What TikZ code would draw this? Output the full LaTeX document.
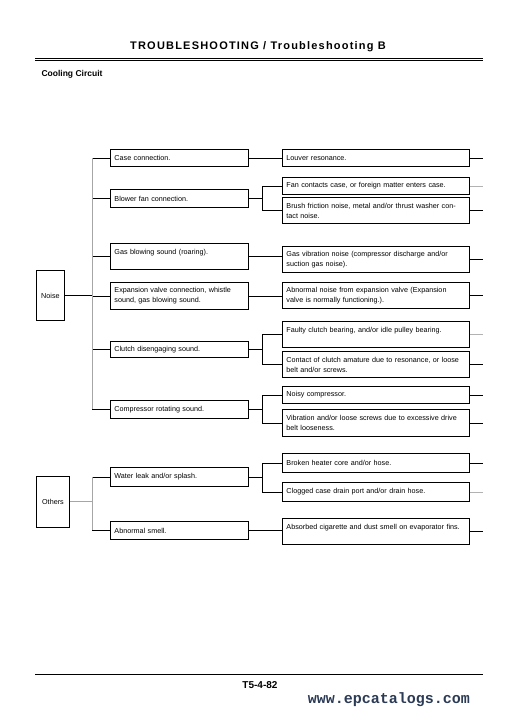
\documentclass[tikz,border=0pt]{standalone}
\usepackage{fontspec}
\setmainfont{Liberation Sans}
\newfontfamily\headfont[LetterSpace=11]{Liberation Sans}
\newfontfamily\webfont{Liberation Mono}
\usetikzlibrary{positioning}
\definecolor{webblue}{HTML}{2B3A55}
\tikzset{
 box/.style={draw,line width=0.9pt,anchor=north west,align=left,inner xsep=4pt,inner ysep=1pt,font=\fontsize{7.2}{10}\selectfont},
 symptom/.style={box,text width=130pt},
 cause/.style={box,text width=179pt},
 group/.style={draw,line width=0.9pt,anchor=north west,inner sep=1pt,font=\fontsize{7.2}{10}\selectfont},
 link/.style={line width=0.7pt},
 bus/.style={line width=1pt,gray!70}
}

\begin{document}
\begin{tikzpicture}[x=1pt,y=-1pt]
\useasboundingbox (0,0) rectangle (520,725);
\node[font=\headfont\bfseries\fontsize{11}{13}\selectfont] (title) at (258,47) {TROUBLESHOOTING / Troubleshooting B};
\draw[line width=0.8pt] (35,58.3)--(483,58.3) (35,60.7)--(483,60.7);
\node[anchor=west,font=\bfseries\fontsize{8.5}{10}\selectfont] (circuit) at (38,74) {Cooling Circuit};
\node[group,minimum width=28,minimum height=50] (noise) at (36,270) {Noise};
\node[group,minimum width=33,minimum height=51] (others) at (36,476) {Others};
\node[symptom,minimum height=17] (case) at (110,149) {Case connection.};
\node[symptom,minimum height=18] (blower) at (110,189) {Blower fan connection.};
\node[symptom,minimum height=26] (gasblow) at (110,243) {Gas blowing sound (roaring).\\\mbox{}};
\node[symptom,minimum height=27] (expvalve) at (110,282) {Expansion valve connection, whistle\\sound, gas blowing sound.};
\node[symptom,minimum height=16] (clutch) at (110,341) {Clutch disengaging sound.};
\node[symptom,minimum height=18] (comprot) at (110,400) {Compressor rotating sound.};
\node[symptom,minimum height=19] (water) at (110,467) {Water leak and/or splash.};
\node[symptom,minimum height=18] (smell) at (110,521) {Abnormal smell.};
\node[cause,minimum height=17] (louver) at (282,149) {Louver resonance.};
\node[cause,minimum height=17] (fancase) at (282,177) {Fan contacts case, or foreign matter enters case.};
\node[cause,minimum height=26] (brush) at (282,197) {Brush friction noise, metal and/or thrust washer con-\\tact noise.};
\node[cause,minimum height=26] (gasvib) at (282,246) {Gas vibration noise (compressor discharge and/or\\suction gas noise).};
\node[cause,minimum height=26] (expnoise) at (282,282) {Abnormal noise from expansion valve (Expansion\\valve is normally functioning.).};
\node[cause,minimum height=26] (bearing) at (282,321) {Faulty clutch bearing, and/or idle pulley bearing.\\\mbox{}};
\node[cause,minimum height=26] (armature) at (282,351) {\mbox{Contact of clutch amature due to resonance, or loose}\\belt and/or screws.};
\node[cause,minimum height=17] (noisy) at (282,386) {Noisy compressor.};
\node[cause,minimum height=27] (vibration) at (282,409) {Vibration and/or loose screws due to excessive drive\\belt looseness.};
\node[cause,minimum height=19] (heater) at (282,453) {Broken heater core and/or hose.};
\node[cause,minimum height=19] (drain) at (282,482) {Clogged case drain port and/or drain hose.};
\node[cause,minimum height=26] (cigarette) at (282,518) {\mbox{Absorbed cigarette and dust smell on evaporator fins.}\\\mbox{}};
\coordinate (noisebus) at ([xshift=-18pt]case.west);
\coordinate (otherbus) at ([xshift=-18pt]water.west);
\foreach \n in {case,blower,gasblow,expvalve,clutch,comprot,water,smell}
 {\draw[link] (\n.west) -- ++(-18,0);}
\draw[bus] (noisebus) -- ([xshift=-18pt]comprot.west);
\draw[link] (noise.east) -- (noise.east -| noisebus);
\draw[bus] (otherbus) -- ([xshift=-18pt]smell.west);
\draw[bus] (others.east) -- (others.east -| otherbus);
\foreach \n/\m in {case/louver,gasblow/gasvib,expvalve/expnoise,smell/cigarette}
 {\draw[link] (\n.east) -- (\n.east -| \m.west);}
\foreach \n/\a/\b in {blower/fancase/brush,clutch/bearing/armature,comprot/noisy/vibration,water/heater/drain}
 {\draw[link] (\n.east) -- ++(14,0);
  \draw[link] (\a.west) -- ++(-20,0) |- (\b.west);}
\foreach \n/\c in {louver/black,fancase/gray!60,brush/black,gasvib/black,expnoise/black,bearing/gray!60,armature/black,noisy/black,vibration/black,heater/black,drain/gray!60,cigarette/black}
 {\draw[link,\c] (\n.east) -- ++(13,0);}
\draw[line width=0.8pt] (35,674)--(483,674);
\node[font=\bfseries\fontsize{10}{12}\selectfont] (page) at (260,685) {T5-4-82};
\node[font=\webfont\bfseries\fontsize{15}{17}\selectfont,text=webblue] (web) at (389,700) {www.epcatalogs.com};
\end{tikzpicture}
\end{document}
